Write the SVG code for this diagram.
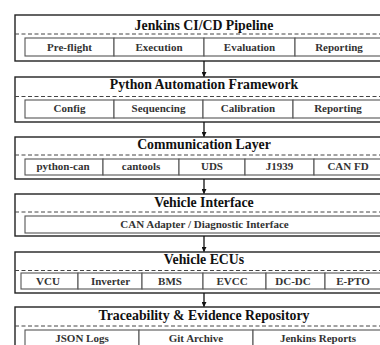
<svg xmlns="http://www.w3.org/2000/svg" width="380" height="345" viewBox="0 0 380 345">
<defs>
<style>
.outer{fill:#ffffff;stroke:#222;stroke-width:1.4}
.dash{stroke:#444;stroke-width:1;stroke-dasharray:4 2.5;fill:none}
.cell{fill:#ffffff;stroke:#555;stroke-width:1.1}
.title{font-family:"Liberation Serif",serif;font-weight:bold;font-size:13.8px;fill:#111;text-anchor:middle}
.lbl{font-family:"Liberation Serif",serif;font-weight:bold;font-size:11px;fill:#333;text-anchor:middle}
.conn{stroke:#111;stroke-width:1.3;fill:none}
</style>
<marker id="ah" viewBox="0 0 10 10" refX="9" refY="5" markerWidth="5" markerHeight="5" orient="auto" markerUnits="userSpaceOnUse">
<path d="M0,0 L10,5 L0,10 Z" fill="#111"/>
</marker>
</defs>
<rect width="380" height="345" fill="#ffffff"/>

<g id="jenkins">
<rect class="outer" x="15" y="15" width="378" height="46"/>
<text class="title" x="204" y="30">Jenkins CI/CD Pipeline</text>
<line class="dash" x1="15" y1="34" x2="393" y2="34"/>
<rect class="cell" x="25" y="38" width="89" height="18"/>
<rect class="cell" x="114" y="38" width="90" height="18"/>
<rect class="cell" x="204" y="38" width="91" height="18"/>
<rect class="cell" x="295" y="38" width="88" height="18"/>
<text class="lbl" x="69.5" y="51">Pre-flight</text>
<text class="lbl" x="159" y="51">Execution</text>
<text class="lbl" x="249.5" y="51">Evaluation</text>
<text class="lbl" x="339" y="51">Reporting</text>
</g>

<g id="python">
<rect class="outer" x="15" y="77" width="378" height="45"/>
<text class="title" x="204" y="89">Python Automation Framework</text>
<line class="dash" x1="15" y1="96.5" x2="393" y2="96.5"/>
<rect class="cell" x="25" y="100" width="89" height="18"/>
<rect class="cell" x="114" y="100" width="89" height="18"/>
<rect class="cell" x="203" y="100" width="90" height="18"/>
<rect class="cell" x="293" y="100" width="90" height="18"/>
<text class="lbl" x="69.5" y="112">Config</text>
<text class="lbl" x="158.5" y="112">Sequencing</text>
<text class="lbl" x="248" y="112">Calibration</text>
<text class="lbl" x="338" y="112">Reporting</text>
</g>

<g id="comm">
<rect class="outer" x="15" y="137" width="378" height="42"/>
<text class="title" x="204" y="149">Communication Layer</text>
<line class="dash" x1="15" y1="155" x2="393" y2="155"/>
<rect class="cell" x="25" y="159" width="78" height="16"/>
<rect class="cell" x="103" y="159" width="76" height="16"/>
<rect class="cell" x="179" y="159" width="66" height="16"/>
<rect class="cell" x="245" y="159" width="69" height="16"/>
<rect class="cell" x="314" y="159" width="69" height="16"/>
<text class="lbl" x="63" y="170">python-can</text>
<text class="lbl" x="141" y="170">cantools</text>
<text class="lbl" x="212" y="170">UDS</text>
<text class="lbl" x="279.5" y="170">J1939</text>
<text class="lbl" x="348" y="170">CAN FD</text>
</g>

<g id="vif">
<rect class="outer" x="15" y="194" width="378" height="42"/>
<text class="title" x="204" y="207">Vehicle Interface</text>
<line class="dash" x1="15" y1="212" x2="393" y2="212"/>
<rect class="cell" x="25" y="216" width="358" height="17"/>
<text class="lbl" x="204.5" y="228">CAN Adapter / Diagnostic Interface</text>
</g>

<g id="ecus">
<rect class="outer" x="15" y="252" width="378" height="41"/>
<text class="title" x="204" y="264">Vehicle ECUs</text>
<line class="dash" x1="15" y1="270.5" x2="393" y2="270.5"/>
<rect class="cell" x="21" y="273" width="57" height="16"/>
<rect class="cell" x="78" y="273" width="64" height="16"/>
<rect class="cell" x="142" y="273" width="61" height="16"/>
<rect class="cell" x="203" y="273" width="63" height="16"/>
<rect class="cell" x="266" y="273" width="59" height="16"/>
<rect class="cell" x="325" y="273" width="60" height="16"/>
<text class="lbl" x="48" y="285">VCU</text>
<text class="lbl" x="110.5" y="285">Inverter</text>
<text class="lbl" x="170" y="285">BMS</text>
<text class="lbl" x="232" y="285">EVCC</text>
<text class="lbl" x="293" y="285">DC-DC</text>
<text class="lbl" x="353" y="285">E-PTO</text>
</g>

<g id="trace">
<rect class="outer" x="15" y="307" width="378" height="50"/>
<text class="title" x="204" y="320">Traceability &amp; Evidence Repository</text>
<line class="dash" x1="15" y1="326" x2="393" y2="326"/>
<rect class="cell" x="25" y="330" width="114" height="20"/>
<rect class="cell" x="139" y="330" width="114" height="20"/>
<rect class="cell" x="253" y="330" width="130" height="20"/>
<text class="lbl" x="82" y="342">JSON Logs</text>
<text class="lbl" x="196" y="342">Git Archive</text>
<text class="lbl" x="318" y="342">Jenkins Reports</text>
</g>

<g id="connectors">
<line class="conn" x1="204" y1="61" x2="204" y2="76.5" marker-end="url(#ah)"/>
<line class="conn" x1="204" y1="122" x2="204" y2="136.5" marker-end="url(#ah)"/>
<line class="conn" x1="204" y1="179" x2="204" y2="193.5" marker-end="url(#ah)"/>
<line class="conn" x1="204" y1="236" x2="204" y2="251.5" marker-end="url(#ah)"/>
<line class="conn" x1="204" y1="293" x2="204" y2="306.5" marker-end="url(#ah)"/>
</g>
</svg>
